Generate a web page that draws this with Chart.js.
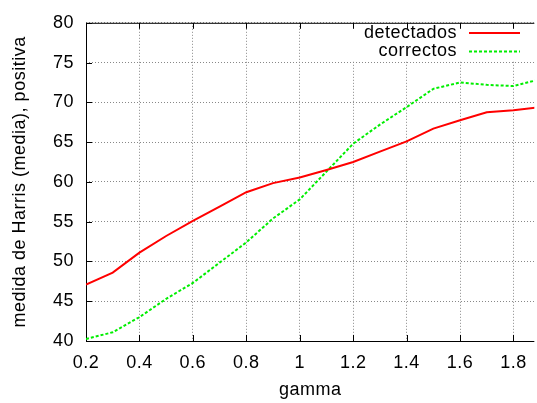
<!DOCTYPE html>
<html>
<head>
<meta charset="utf-8">
<script src="https://cdn.jsdelivr.net/npm/chart.js@4"></script>
<style>
  html, body { margin: 0; padding: 0; background: #fff; }
  #wrap { width: 537px; height: 403px; }
</style>
</head>
<body>
<div id="wrap"><canvas id="chart" width="537" height="403"></canvas></div>
<script>
const gamma = [0.2, 0.3, 0.4, 0.5, 0.6, 0.7, 0.8, 0.9, 1.0, 1.1, 1.2, 1.3, 1.4, 1.5, 1.6, 1.7, 1.8, 1.9];
const detectados = [47.1, 48.6, 51.1, 53.2, 55.1, 56.9, 58.7, 59.85, 60.55, 61.5, 62.5, 63.8, 65.1, 66.7, 67.75, 68.75, 69.0, 69.4];
const correctos = [40.25, 41.1, 43.0, 45.3, 47.3, 49.85, 52.4, 55.4, 57.8, 61.3, 64.8, 67.2, 69.4, 71.7, 72.5, 72.2, 72.05, 72.9];
const xTicks = [0.2, 0.4, 0.6, 0.8, 1, 1.2, 1.4, 1.6, 1.8];
const yTicks = [40, 45, 50, 55, 60, 65, 70, 75, 80];

Chart.defaults.font.family = "'Liberation Sans', Arial, sans-serif";
Chart.defaults.font.size = 18;
Chart.defaults.color = '#000';

// gnuplot style frame, inward ticks and legend box
const gnuFrame = {
    id: 'gnuFrame',
    beforeDraw(chart) {
        // gnuplot text is a little wider than Arial
        chart.ctx.letterSpacing = '0.5px';
    },
    beforeDatasetsDraw(chart) {
        const {ctx, chartArea: a, scales} = chart;
        ctx.save();
        // legend box hides the grid
        ctx.fillStyle = '#fff';
        ctx.fillRect(342, a.top, a.right - 342, 61 - a.top);
        ctx.strokeStyle = '#000';
        ctx.lineWidth = 1;
        ctx.beginPath();
        ctx.moveTo(a.left + 0.5, a.bottom + 0.5);
        ctx.lineTo(a.left + 0.5, a.top + 0.5);
        ctx.lineTo(a.right, a.top + 0.5);
        ctx.moveTo(a.left, a.bottom + 0.5);
        ctx.lineTo(a.right, a.bottom + 0.5);
        xTicks.forEach(v => {
            const px = Math.round(scales.x.getPixelForValue(v)) + 0.5;
            ctx.moveTo(px, a.bottom);
            ctx.lineTo(px, a.bottom - 6);
            ctx.moveTo(px, a.top);
            ctx.lineTo(px, a.top + 6);
        });
        yTicks.forEach(v => {
            const py = Math.round(scales.y.getPixelForValue(v)) + 0.5;
            ctx.moveTo(a.left, py);
            ctx.lineTo(a.left + 6, py);
        });
        ctx.stroke();
        ctx.restore();
    },
    afterDraw(chart) {
        const {ctx} = chart;
        ctx.save();
        ctx.font = "18px 'Liberation Sans', Arial, sans-serif";
        ctx.textAlign = 'right';
        ctx.textBaseline = 'middle';
        ctx.fillStyle = '#000';
        chart.data.datasets.forEach((ds, i) => {
            const y = 33 + i * 18.5;
            ctx.fillText(ds.label, 457, y);
            ctx.strokeStyle = ds.borderColor;
            ctx.lineWidth = ds.borderWidth;
            ctx.setLineDash(ds.borderDash || []);
            ctx.beginPath();
            ctx.moveTo(469, y);
            ctx.lineTo(520, y);
            ctx.stroke();
        });
        ctx.restore();
    }
};

new Chart(document.getElementById('chart'), {
    type: 'line',
    data: {
        datasets: [{
            label: 'detectados',
            data: gamma.map((g, i) => ({x: g, y: detectados[i]})),
            borderColor: '#ff0000',
            borderWidth: 2,
            pointRadius: 0,
            tension: 0
        }, {
            label: 'correctos',
            data: gamma.map((g, i) => ({x: g, y: correctos[i]})),
            borderColor: '#00ee00',
            borderWidth: 2,
            borderDash: [3, 2],
            pointRadius: 0,
            tension: 0
        }]
    },
    options: {
        responsive: false,
        animation: false,
        layout: {padding: {top: 18, right: 0, left: 0, bottom: 0}},
        plugins: {
            legend: {display: false},
            tooltip: {enabled: false}
        },
        scales: {
            x: {
                type: 'linear',
                min: 0.2,
                max: 1.878,
                afterBuildTicks: s => { s.ticks = xTicks.map(v => ({value: v})); },
                afterFit: s => { s.height = 62; },
                grid: {color: '#888', drawTicks: false},
                border: {display: false, dash: [1, 2]},
                ticks: {padding: 11, maxRotation: 0, callback: v => String(v)},
                title: {display: true, text: 'gamma', padding: {top: 0, bottom: 2}}
            },
            y: {
                min: 40,
                max: 80,
                afterBuildTicks: s => { s.ticks = yTicks.map(v => ({value: v})); },
                afterFit: s => { s.width = 86; },
                grid: {color: '#888', drawTicks: false},
                border: {display: false, dash: [1, 2]},
                ticks: {padding: 12},
                title: {display: true, text: 'medida de Harris (media), positiva', padding: {top: 9, bottom: 0}}
            }
        }
    },
    plugins: [gnuFrame]
});
</script>
</body>
</html>
